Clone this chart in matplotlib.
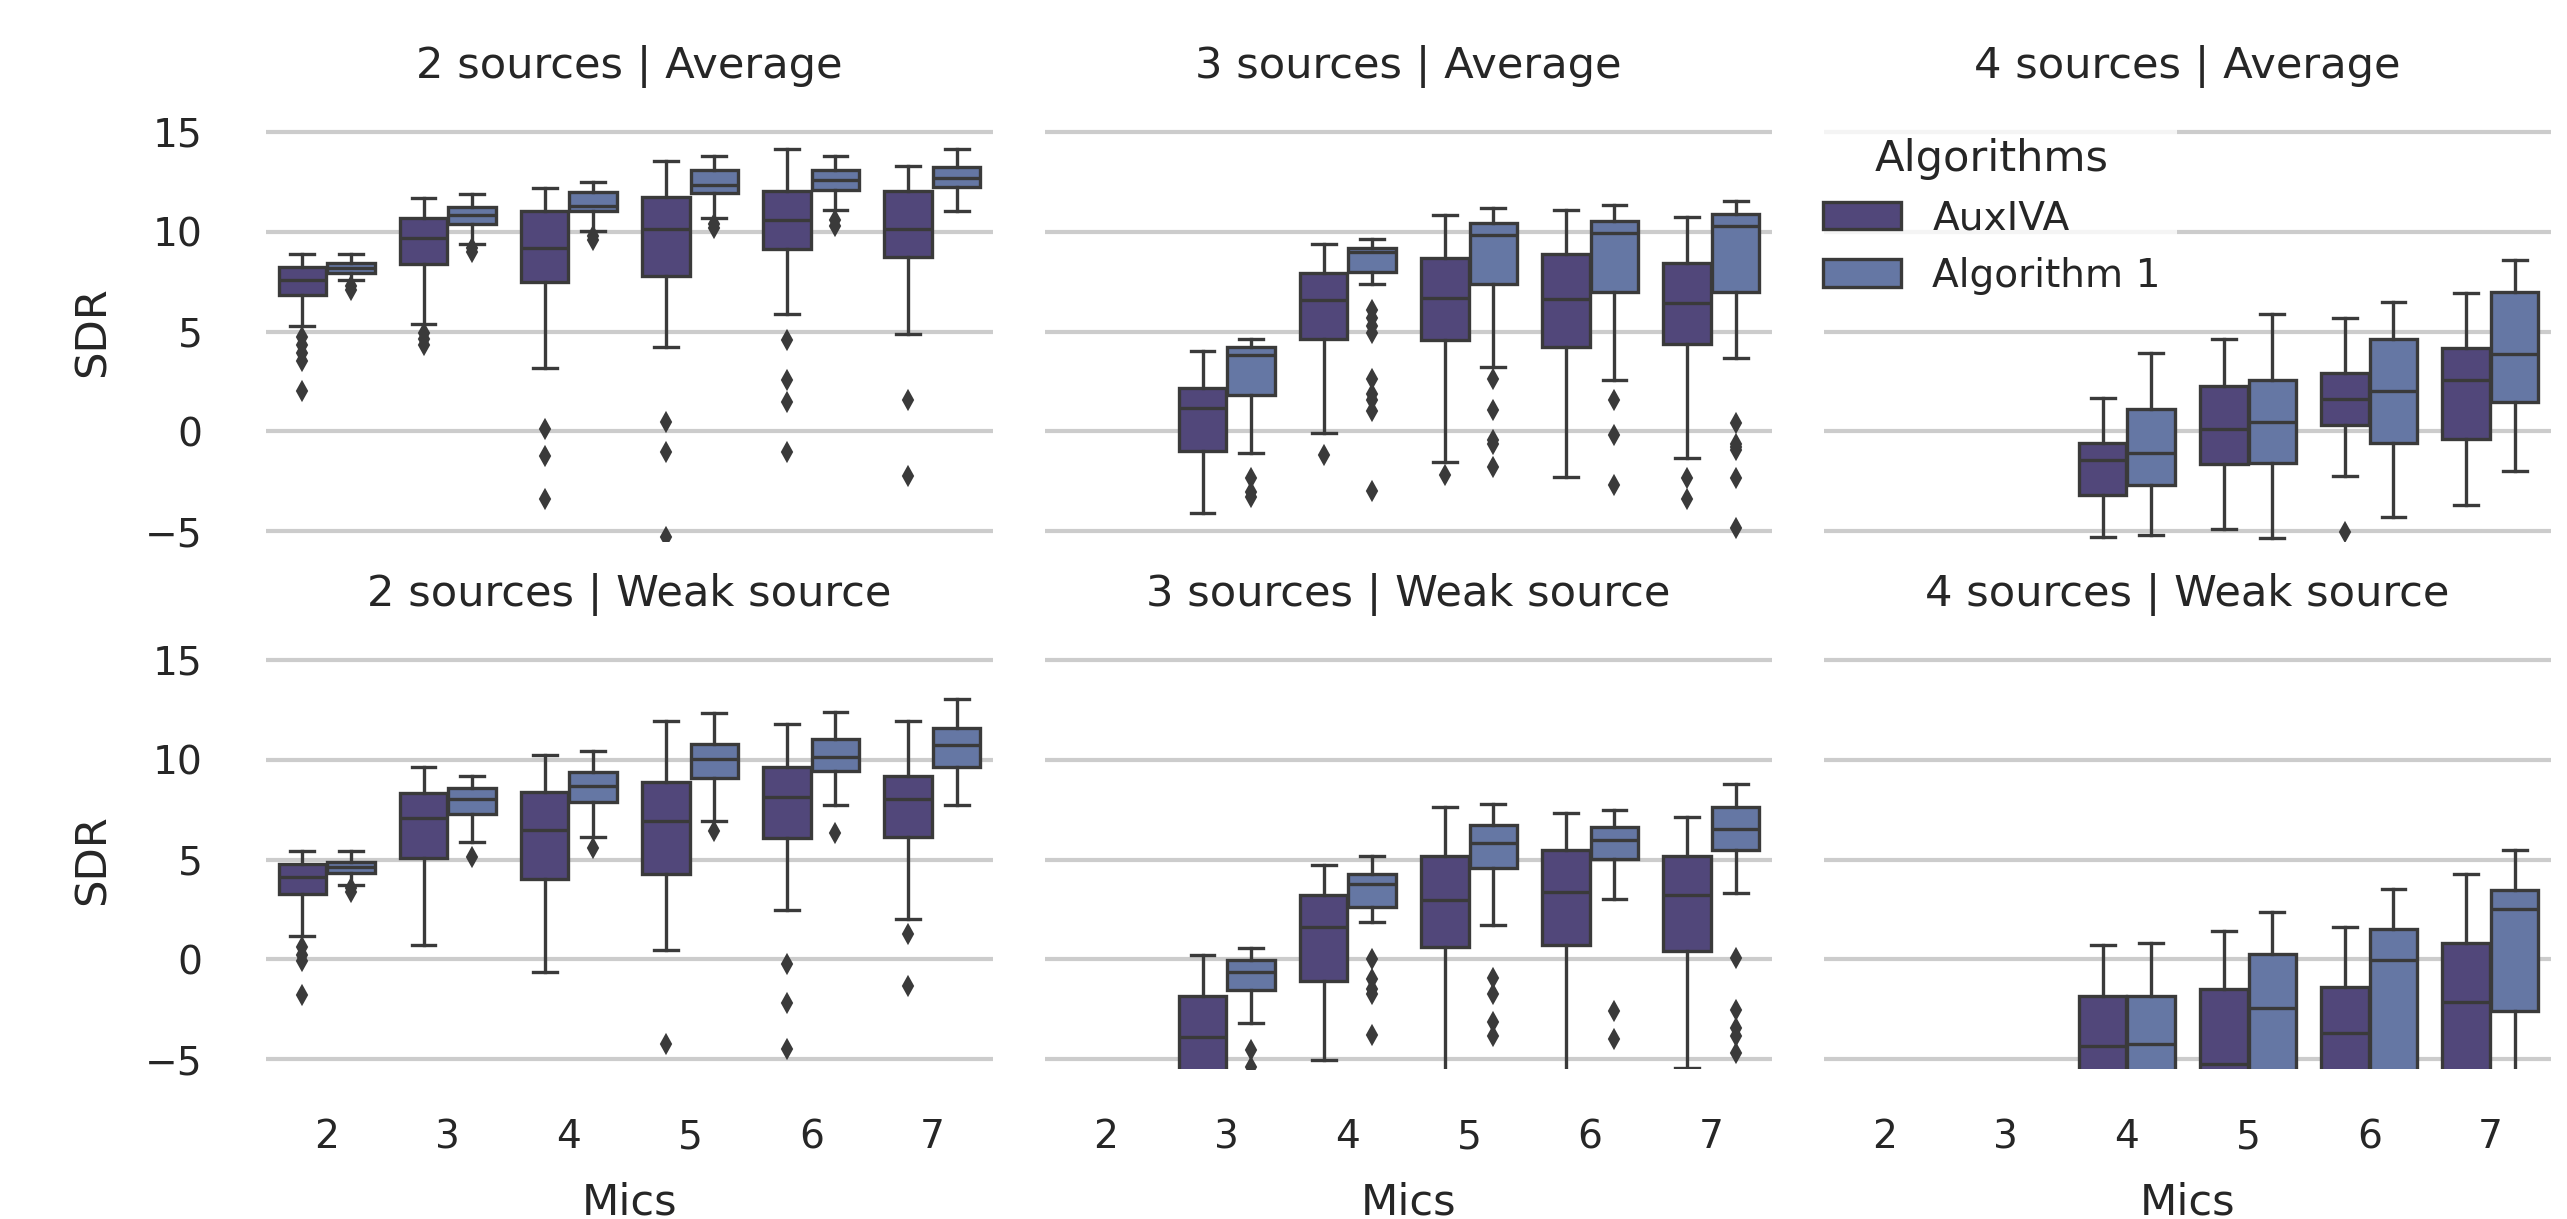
import matplotlib
matplotlib.use("Agg")
import matplotlib.pyplot as plt
from matplotlib.patches import Patch

plt.rcParams['font.family'] = ['DejaVu Sans']

# ---------------- data ----------------
mics = [2, 3, 4, 5, 6, 7]
algorithms = ["AuxIVA", "Algorithm 1"]
n_sources = [2, 3, 4]
metrics = ["Average", "Weak source"]
yticks = [-5, 0, 5, 10, 15]

# five-number summaries per mic: (whislo, q1, median, q3, whishi); None = no data
s2_avg_auxiva = [(5.26, 6.83, 7.6, 8.25, 8.9), (5.39, 8.39, 9.71, 10.67, 11.67),
                 (3.17, 7.49, 9.21, 11.06, 12.17), (4.24, 7.77, 10.12, 11.75, 13.57),
                 (5.89, 9.14, 10.6, 12.05, 14.13), (4.88, 8.71, 10.13, 12.05, 13.28)]
s2_avg_auxiva_fliers = [[4.7, 4.3, 3.9, 3.5, 2.0], [4.9, 4.6, 4.3], [0.1, -1.23, -3.4],
                        [0.48, -1.02, -5.3], [4.59, 2.55, 1.48, -1.06], [1.55, -2.26]]
s2_avg_alg1 = [(7.56, 7.93, 8.2, 8.45, 8.9), (9.4, 10.4, 10.84, 11.25, 11.88),
               (10.06, 11.04, 11.3, 12.0, 12.48), (10.69, 11.94, 12.32, 13.07, 13.82),
               (11.07, 12.1, 12.6, 13.07, 13.8), (11.06, 12.25, 12.69, 13.24, 14.15)]
s2_avg_alg1_fliers = [[7.3, 7.1], [9.2, 9.0], [9.8, 9.6], [10.4, 10.2], [10.6, 10.3], []]

s2_weak_auxiva = [(1.17, 3.27, 4.12, 4.75, 5.41), (0.69, 5.07, 7.07, 8.32, 9.62),
                  (-0.63, 4.04, 6.48, 8.36, 10.22), (0.46, 4.28, 6.93, 8.89, 11.96),
                  (2.46, 6.06, 8.12, 9.64, 11.78), (2.0, 6.14, 8.04, 9.21, 11.92)]
s2_weak_auxiva_fliers = [[0.6, 0.2, -0.1, -1.78], [], [], [-4.24],
                         [-0.24, -2.18, -4.51], [1.29, -1.35]]
s2_weak_alg1 = [(3.72, 4.3, 4.63, 4.87, 5.45), (5.86, 7.29, 8.04, 8.59, 9.17),
                (6.14, 7.88, 8.67, 9.37, 10.44), (6.91, 9.09, 10.04, 10.81, 12.34),
                (7.72, 9.43, 10.14, 11.03, 12.4), (7.74, 9.62, 10.73, 11.6, 13.03)]
s2_weak_alg1_fliers = [[3.55, 3.35], [5.15], [5.6], [6.44], [6.34], []]

s3_avg_auxiva = [None, (-4.09, -0.98, 1.15, 2.15, 4.01), (-0.08, 4.63, 6.6, 7.95, 9.4),
                 (-1.54, 4.55, 6.7, 8.66, 10.86), (-2.3, 4.2, 6.64, 8.89, 11.09),
                 (-1.34, 4.36, 6.43, 8.43, 10.75)]
s3_avg_auxiva_fliers = [[], [], [-1.17], [-2.17], [], [-2.32, -3.42]]
s3_avg_alg1 = [None, (-1.11, 1.82, 3.82, 4.2, 4.64), (7.39, 8.0, 8.96, 9.19, 9.65),
               (3.21, 7.37, 9.85, 10.46, 11.21), (2.59, 7.0, 9.92, 10.54, 11.36),
               (3.65, 7.0, 10.31, 10.88, 11.52)]
s3_avg_alg1_fliers = [[], [-2.36, -3.03, -3.3],
                      [6.1, 5.7, 5.3, 4.9, 2.63, 1.86, 1.57, 1.0, -2.98],
                      [2.63, 1.09, -0.44, -0.63, -1.79], [1.57, -0.21, -2.67],
                      [0.42, -0.63, -0.8, -0.95, -2.32, -4.86]]

s3_weak_auxiva = [None, (-12.0, -7.0, -3.88, -1.84, 0.22), (-5.05, -1.09, 1.62, 3.23, 4.71),
                  (-9.0, 0.59, 2.99, 5.17, 7.64), (-9.5, 0.73, 3.35, 5.49, 7.33),
                  (-5.45, 0.4, 3.23, 5.19, 7.13)]
s3_weak_auxiva_fliers = [[], [], [], [], [], []]
s3_weak_alg1 = [None, (-3.21, -1.52, -0.63, -0.06, 0.57), (1.88, 2.63, 3.76, 4.26, 5.19),
                (1.72, 4.55, 5.84, 6.71, 7.78), (3.03, 5.01, 5.98, 6.61, 7.47),
                (3.31, 5.47, 6.55, 7.62, 8.79)]
s3_weak_alg1_fliers = [[], [-4.55, -5.4], [0.0, -0.99, -1.49, -1.75, -3.8],
                       [-0.95, -1.74, -3.13, -3.86], [-2.57, -4.0],
                       [0.04, -2.53, -3.45, -3.85, -4.71]]

s4_avg_auxiva = [None, None, (-5.3, -3.19, -1.44, -0.6, 1.67), (-4.88, -1.65, 0.13, 2.28, 4.64),
                 (-2.26, 0.29, 1.63, 2.92, 5.66), (-3.72, -0.4, 2.59, 4.17, 6.91)]
s4_avg_auxiva_fliers = [[], [], [], [], [-5.05], []]
s4_avg_alg1 = [None, None, (-5.18, -2.71, -1.07, 1.11, 3.92), (-5.36, -1.57, 0.44, 2.59, 5.87),
               (-4.28, -0.6, 2.02, 4.64, 6.49), (-1.98, 1.48, 3.86, 6.97, 8.56)]
s4_avg_alg1_fliers = [[], [], [], [], [], []]

s4_weak_auxiva = [None, None, (-14.0, -8.0, -4.36, -1.82, 0.73), (-16.0, -9.0, -5.25, -1.5, 1.43),
                  (-15.0, -8.0, -3.7, -1.39, 1.6), (-14.0, -7.0, -2.12, 0.83, 4.28)]
s4_weak_auxiva_fliers = [[], [], [], [], [], []]
s4_weak_alg1 = [None, None, (-14.0, -8.0, -4.24, -1.82, 0.79), (-13.0, -7.0, -2.42, 0.26, 2.36),
                (-12.0, -6.5, -0.04, 1.54, 3.54), (-9.0, -2.61, 2.51, 3.47, 5.47)]
s4_weak_alg1_fliers = [[], [], [], [], [], []]

panels = {
    (0, 0): (s2_avg_auxiva, s2_avg_auxiva_fliers, s2_avg_alg1, s2_avg_alg1_fliers),
    (0, 1): (s3_avg_auxiva, s3_avg_auxiva_fliers, s3_avg_alg1, s3_avg_alg1_fliers),
    (0, 2): (s4_avg_auxiva, s4_avg_auxiva_fliers, s4_avg_alg1, s4_avg_alg1_fliers),
    (1, 0): (s2_weak_auxiva, s2_weak_auxiva_fliers, s2_weak_alg1, s2_weak_alg1_fliers),
    (1, 1): (s3_weak_auxiva, s3_weak_auxiva_fliers, s3_weak_alg1, s3_weak_alg1_fliers),
    (1, 2): (s4_weak_auxiva, s4_weak_auxiva_fliers, s4_weak_alg1, s4_weak_alg1_fliers),
}

# ---------------- style ----------------
colors = ["#51477a", "#6577a4"]
gray = "#3a3a3a"
text_color = "#262626"
lw = 0.8
W, H = 2567, 1219
DPI = 300

fig = plt.figure(figsize=(W / DPI, H / DPI), dpi=DPI)

col_lr = [(266, 993), (1045, 1772), (1824, 2551)]
row_tb = [(122, 541), (650, 1069)]


def rect(l, t, r, b):
    return [l / W, 1 - b / H, (r - l) / W, (b - t) / H]


for (ri, ci), (aux, aux_f, alg, alg_f) in panels.items():
    l, r = col_lr[ci]
    t, b = row_tb[ri]
    ax = fig.add_axes(rect(l, t, r, b))
    ax.set_facecolor("white")
    for sp in ax.spines.values():
        sp.set_visible(False)
    ax.set_axisbelow(True)
    ax.yaxis.grid(True, color="#cccccc", linewidth=1.0)
    ax.xaxis.grid(False)

    for k, (summ, fl) in enumerate([(aux, aux_f), (alg, alg_f)]):
        stats, pos = [], []
        for i, s in enumerate(summ):
            if s is None:
                continue
            stats.append(dict(whislo=s[0], q1=s[1], med=s[2], q3=s[3], whishi=s[4],
                              fliers=fl[i]))
            pos.append(i + (-0.2 if k == 0 else 0.2))
        ax.bxp(stats, positions=pos, widths=0.392, patch_artist=True,
               showfliers=True, manage_ticks=False,
               boxprops=dict(facecolor=colors[k], edgecolor=gray, linewidth=lw),
               medianprops=dict(color=gray, linewidth=lw),
               whiskerprops=dict(color=gray, linewidth=lw),
               capprops=dict(color=gray, linewidth=lw),
               flierprops=dict(marker="d", markerfacecolor=gray, markeredgecolor=gray,
                               markersize=2.9, markeredgewidth=0.5, linestyle="none"))

    ax.set_xlim(-0.5, 5.5)
    ax.set_ylim(-5.5, 15.5)
    ax.set_yticks(yticks)
    ax.set_xticks(range(len(mics)))
    ax.set_xticklabels([str(m) for m in mics])
    ax.tick_params(axis="both", length=0, labelsize=9.4, labelcolor=text_color)
    ax.tick_params(axis="x", pad=11.8)
    ax.tick_params(axis="y", pad=15.2)
    if ci != 0:
        ax.tick_params(axis="y", labelleft=False)
    else:
        ax.set_ylabel("SDR", fontsize=10.4, color=text_color, labelpad=7.5)
    if ri == 0:
        ax.tick_params(axis="x", labelbottom=False)
    else:
        ax.set_xlabel("Mics", fontsize=10.4, color=text_color, labelpad=6.0)
    ax.set_title(f"{n_sources[ci]} sources | {metrics[ri]}", fontsize=10.4,
                 color=text_color, pad=10.5)

    if (ri, ci) == (0, 2):
        handles = [Patch(facecolor=colors[j], edgecolor=gray, linewidth=lw)
                   for j in range(len(algorithms))]
        leg = ax.legend(handles, algorithms, title="Algorithms", loc="upper left",
                        bbox_to_anchor=(1807 / W, 1 - 122 / H),
                        bbox_transform=fig.transFigure, borderaxespad=0,
                        fontsize=9.4, title_fontsize=10.4, frameon=True,
                        framealpha=0.8, facecolor="white", edgecolor="none",
                        fancybox=False)
        for tx in leg.get_texts():
            tx.set_color(text_color)
        leg.get_title().set_color(text_color)

fig.savefig("out.png", dpi=DPI)
